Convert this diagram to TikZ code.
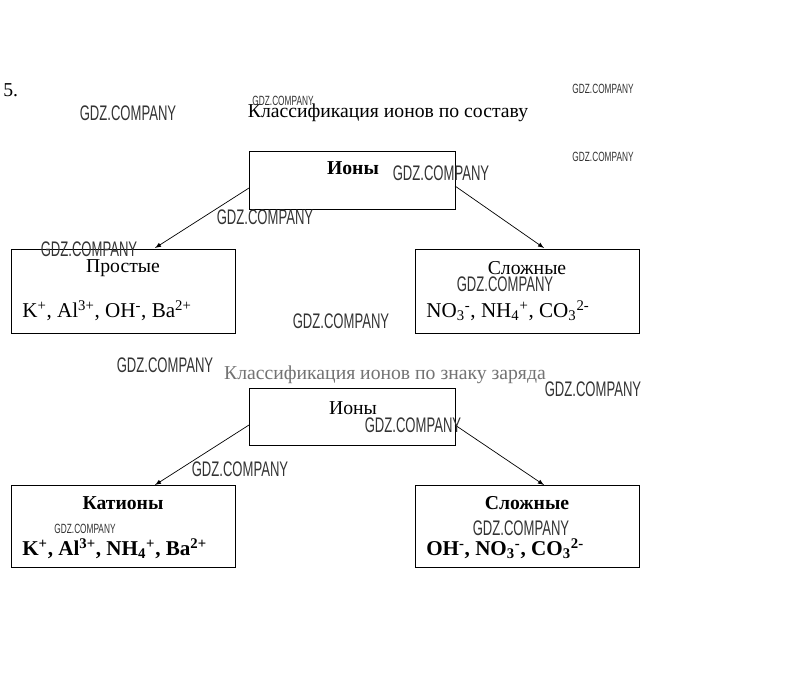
\documentclass[tikz,border=0pt]{standalone}
\usepackage{fontspec}
\setmainfont{Liberation Serif}
\newfontfamily\wmfont{Liberation Sans}
\usepackage{tikz}
\usetikzlibrary{positioning,calc,arrows}

\newcommand{\up}[1]{\textsuperscript{#1}}
\newcommand{\dn}[1]{\textsubscript{#1}}

\begin{document}
\begin{tikzpicture}[x=0.025cm,y=-0.025cm,
  box/.style={draw,line width=0.6pt,inner sep=0pt},
  arr/.style={-latex,line width=0.5pt},
  txt/.style={font=\fontsize{14}{16}\selectfont,inner sep=0pt},
  btxt/.style={font=\bfseries\fontsize{14}{16}\selectfont,inner sep=0pt},
  ftxt/.style={font=\fontsize{15}{17}\selectfont,inner sep=0pt,anchor=west},
  wm/.style={font=\wmfont\fontsize{15}{16}\selectfont,text=black!80,xscale=0.62,inner sep=0pt},
  wms/.style={font=\wmfont\fontsize{9.5}{10}\selectfont,text=black!80,xscale=0.62,inner sep=0pt}]

\useasboundingbox[fill=white] (0,0) rectangle (802,673);

\newcommand{\boxw}{224}
\newcommand{\boxh}{84}

% first scheme
\node[txt,anchor=west] (num) at (3,90) {5.};
\node[txt] (title1) at (388,113) {Классификация ионов по составу};

\draw[box] (249,151) rectangle (455,209);
\node[btxt] (ions1t) at (353,168) {Ионы};

\draw[box] (11,249) rectangle ++(\boxw,\boxh);
\draw[box] (415,249) rectangle ++(\boxw,\boxh);
\node[txt] (simple) at (123,268) {Простые};
\node[ftxt] (simplei) at (22,311) {K\up{+}, Al\up{3+}, OH\up{-}, Ba\up{2+}};
\node[txt] (complex1) at (527,268) {Сложные};
\node[ftxt] (complex1i) at (426,311) {NO\dn{3}\up{-}, NH\dn{4}\up{+}, CO\dn{3}\up{2-}};

\coordinate (a) at (249,188);
\coordinate (b) at (155,248);
\coordinate (c) at (455,186);
\coordinate (d) at (544,248);
\draw[arr] (a) -- (b);
\draw[arr] (c) -- (d);

% second scheme
\node[txt,text=black!55] (title2) at (385,375) {Классификация ионов по знаку заряда};

\draw[box] (249,388) rectangle (455,445);
\node[txt] (ions2t) at (353,408) {Ионы};

\draw[box] (11,485) rectangle ++(\boxw,82);
\draw[box] (415,485) rectangle ++(\boxw,82);
\node[btxt] (cat) at (123,503) {Катионы};
\node[ftxt,font=\bfseries\fontsize{15}{17}\selectfont] (cati) at (22,549) {K\up{+}, Al\up{3+}, NH\dn{4}\up{+}, Ba\up{2+}};
\node[btxt] (complex2) at (527,503) {Сложные};
\node[ftxt,font=\bfseries\fontsize{15}{17}\selectfont] (complex2i) at (426,549) {OH\up{-}, NO\dn{3}\up{-}, CO\dn{3}\up{2-}};

\coordinate (e) at (249,425);
\coordinate (f) at (155,485);
\coordinate (g) at (455,425);
\coordinate (h) at (544,485);
\draw[arr] (e) -- (f);
\draw[arr] (g) -- (h);

% watermarks
\foreach \x/\y in {128/113,441/173,265/217,89/249,505/284,341/321,165/365,593/389,413/425,240/469,521/528}
  \node[wm] at (\x,\y) {GDZ.COMPANY};
\foreach \x/\y in {283/101,603/89,603/157,85/529}
  \node[wms] at (\x,\y) {GDZ.COMPANY};

\end{tikzpicture}
\end{document}
